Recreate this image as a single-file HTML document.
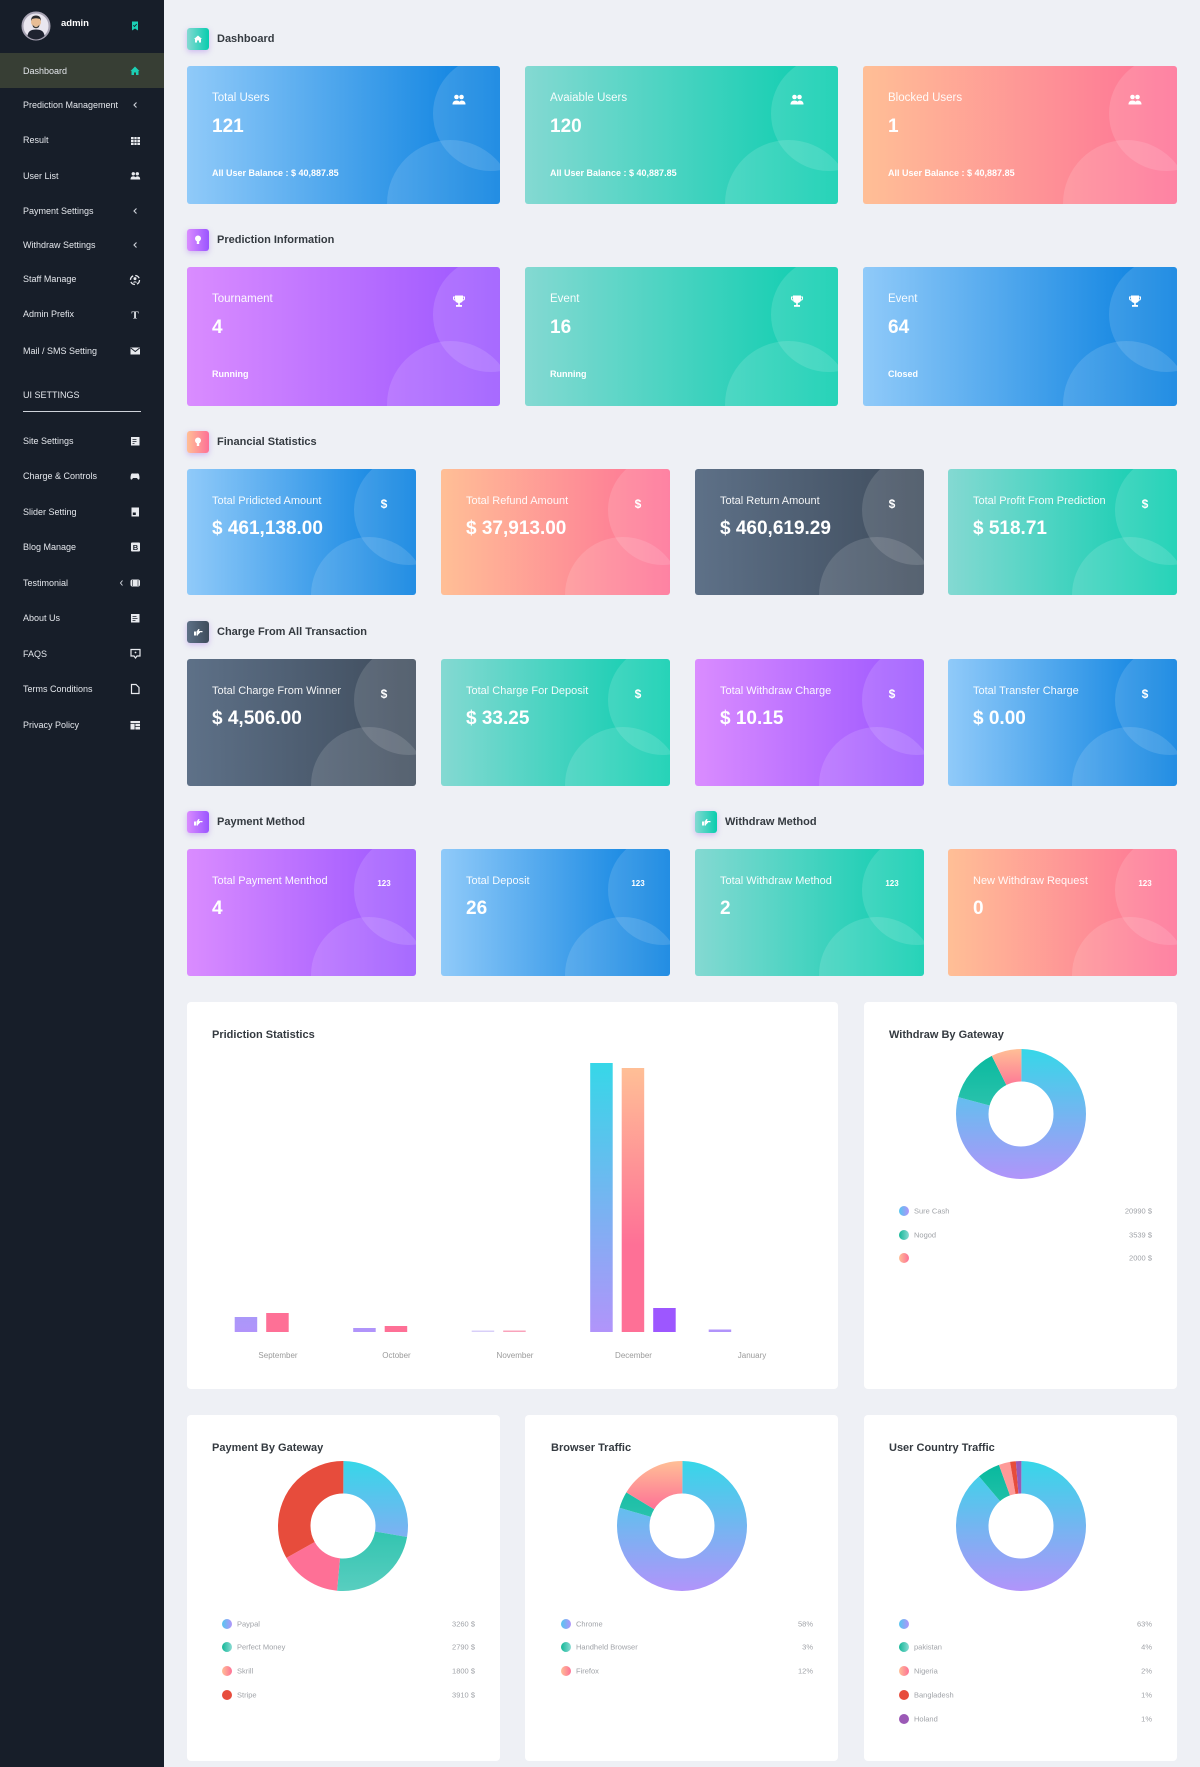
<!DOCTYPE html>
<html><head><meta charset="utf-8">
<style>
*{margin:0;padding:0;box-sizing:border-box}
html,body{width:1200px;height:1767px;overflow:hidden}
body{background:#eef0f5;font-family:"Liberation Sans",Arial,sans-serif;position:relative}
.sb{position:absolute;left:0;top:0;width:164px;height:1767px;background:#171e29}
.act{position:absolute;left:0;top:53px;width:164px;height:35px;background:#373e34}
.si{position:absolute;left:23px;font-size:9px;line-height:12px;color:#e4e7ec;white-space:nowrap}
.card{position:absolute;border-radius:3px;overflow:hidden;color:#fff}
.card .o{position:absolute;border-radius:50%;background:rgba(255,255,255,.13)}
.big{width:313px;height:138px}
.big .o1{left:246px;top:-10px;width:115px;height:115px}
.big .o2{left:200px;top:74px;width:127px;height:127px}
.sm{width:229px;height:127px}
.sm .o1{left:167px;top:-14px;width:110px;height:110px}
.sm .o2{left:124px;top:68px;width:116px;height:116px}
.lb{position:absolute;left:25px;top:25px;font-size:11.5px;line-height:14px;color:rgba(255,255,255,.93);white-space:nowrap}
.sm .lb{font-size:11px}
.vl{position:absolute;left:25px;top:50px;font-size:19px;font-weight:bold;line-height:22px;white-space:nowrap}
.sm .vl{top:49px}
.ft{position:absolute;left:25px;top:101px;font-size:9px;font-weight:bold;line-height:12px;white-space:nowrap}
.ci{position:absolute;left:264px;top:26px;width:16px;height:16px}
.cd{position:absolute;left:187px;top:27px;width:20px;line-height:16px;text-align:center;font-size:12px;font-weight:bold}
.cn{position:absolute;left:187px;top:27px;width:20px;line-height:16px;text-align:center;font-size:8px;font-weight:bold}
.gb{background:linear-gradient(to right,#90caf9,#047edf 99%)}
.gt{background:linear-gradient(to right,#84d9d2,#07cdae)}
.gr{background:linear-gradient(to right,#ffbf96,#fe7096)}
.gp{background:linear-gradient(to right,#da8cff,#9a55ff)}
.gd{background:linear-gradient(89deg,#5e7188,#3e4b5b)}
.hi{position:absolute;width:22px;height:22px;border-radius:3px;box-shadow:0 2px 6px rgba(150,90,230,.35)}
.hi svg{position:absolute;left:0;top:0}
.ht{position:absolute;font-size:11px;font-weight:bold;color:#343a40;line-height:14px;white-space:nowrap}
.panel{position:absolute;background:#fff;border-radius:4px}
svg.ov{position:absolute;left:0;top:0}
</style></head><body>

<div class="sb"></div>
<div class="act"></div>
<div class="si" style="top:18px;left:61px;font-weight:bold;font-size:9.5px;color:#fff">admin</div>
<div class="si" style="top:64.5px">Dashboard</div>
<div class="si" style="top:99px">Prediction Management</div>
<div class="si" style="top:134px">Result</div>
<div class="si" style="top:170px">User List</div>
<div class="si" style="top:205px">Payment Settings</div>
<div class="si" style="top:239px">Withdraw Settings</div>
<div class="si" style="top:273px">Staff Manage</div>
<div class="si" style="top:308px">Admin Prefix</div>
<div class="si" style="top:345px">Mail / SMS Setting</div>
<div class="si" style="top:389px">UI SETTINGS</div>
<div style="position:absolute;left:23px;top:411px;width:118px;height:1px;background:#cfd3da"></div>
<div class="si" style="top:435px">Site Settings</div>
<div class="si" style="top:470px">Charge &amp; Controls</div>
<div class="si" style="top:506px">Slider Setting</div>
<div class="si" style="top:541px">Blog Manage</div>
<div class="si" style="top:577px">Testimonial</div>
<div class="si" style="top:612px">About Us</div>
<div class="si" style="top:648px">FAQS</div>
<div class="si" style="top:683px">Terms Conditions</div>
<div class="si" style="top:719px">Privacy Policy</div>

<!-- Headings -->
<div class="hi gt" style="left:187px;top:28px"><svg width="22" height="22"><path d="M7 11 L11 7.5 L15 11 L14 11 L14 14.5 L12 14.5 L12 12.5 L10 12.5 L10 14.5 L8 14.5 L8 11Z" fill="#fff"/></svg></div>
<div class="ht" style="left:217px;top:32px">Dashboard</div>
<div class="hi gp" style="left:187px;top:229px"><svg width="22" height="22"><circle cx="11" cy="9.5" r="3" fill="#fff"/><rect x="9.8" y="12" width="2.4" height="3" fill="#fff"/></svg></div>
<div class="ht" style="left:217px;top:233px">Prediction Information</div>
<div class="hi gr" style="left:187px;top:431px"><svg width="22" height="22"><circle cx="11" cy="9.5" r="3" fill="#fff"/><rect x="9.8" y="12" width="2.4" height="3" fill="#fff"/></svg></div>
<div class="ht" style="left:217px;top:435px">Financial Statistics</div>
<div class="hi gd" style="left:187px;top:621px"><svg width="22" height="22"><path d="M7 10.5h2v4H7zM9.5 10.5l2-2.5h1l-.5 2h3.5v1.2h-2.5v1h-1v1h-1v1.3h-1.5z" fill="#fff"/></svg></div>
<div class="ht" style="left:217px;top:625px">Charge From All Transaction</div>
<div class="hi gp" style="left:187px;top:811px"><svg width="22" height="22"><path d="M7 10.5h2v4H7zM9.5 10.5l2-2.5h1l-.5 2h3.5v1.2h-2.5v1h-1v1h-1v1.3h-1.5z" fill="#fff"/></svg></div>
<div class="ht" style="left:217px;top:815px">Payment Method</div>
<div class="hi gt" style="left:695px;top:811px"><svg width="22" height="22"><path d="M7 10.5h2v4H7zM9.5 10.5l2-2.5h1l-.5 2h3.5v1.2h-2.5v1h-1v1h-1v1.3h-1.5z" fill="#fff"/></svg></div>
<div class="ht" style="left:725px;top:815px">Withdraw Method</div>

<!-- Row 1 -->
<div class="card big gb" style="left:187px;top:66px"><div class="o o1"></div><div class="o o2"></div>
<div class="lb">Total Users</div><div class="vl">121</div><div class="ft">All User Balance : $ 40,887.85</div>
<svg class="ci" viewBox="0 0 16 16"><circle cx="5.5" cy="5" r="2.3" fill="#fff"/><circle cx="10.5" cy="5" r="2.3" fill="#fff"/><path d="M1.5 12.5Q1.5 8.5 5.5 8.5Q9.5 8.5 9.5 12.5Z M8 12.5Q8.5 8.5 10.5 8.5Q14.5 8.5 14.5 12.5Z" fill="#fff"/></svg></div>
<div class="card big gt" style="left:525px;top:66px"><div class="o o1"></div><div class="o o2"></div>
<div class="lb">Avaiable Users</div><div class="vl">120</div><div class="ft">All User Balance : $ 40,887.85</div>
<svg class="ci" viewBox="0 0 16 16"><circle cx="5.5" cy="5" r="2.3" fill="#fff"/><circle cx="10.5" cy="5" r="2.3" fill="#fff"/><path d="M1.5 12.5Q1.5 8.5 5.5 8.5Q9.5 8.5 9.5 12.5Z M8 12.5Q8.5 8.5 10.5 8.5Q14.5 8.5 14.5 12.5Z" fill="#fff"/></svg></div>
<div class="card big gr" style="left:863px;top:66px;width:314px"><div class="o o1"></div><div class="o o2"></div>
<div class="lb">Blocked Users</div><div class="vl">1</div><div class="ft">All User Balance : $ 40,887.85</div>
<svg class="ci" viewBox="0 0 16 16"><circle cx="5.5" cy="5" r="2.3" fill="#fff"/><circle cx="10.5" cy="5" r="2.3" fill="#fff"/><path d="M1.5 12.5Q1.5 8.5 5.5 8.5Q9.5 8.5 9.5 12.5Z M8 12.5Q8.5 8.5 10.5 8.5Q14.5 8.5 14.5 12.5Z" fill="#fff"/></svg></div>

<!-- Row 2 -->
<div class="card big gp" style="left:187px;top:267px;height:139px"><div class="o o1"></div><div class="o o2"></div>
<div class="lb">Tournament</div><div class="vl">4</div><div class="ft">Running</div>
<svg class="ci" viewBox="0 0 16 16"><path d="M4 2.5H12V6.5Q12 10 8 10Q4 10 4 6.5Z M4 3.5H2V5.5Q2 7.5 4.3 7.8V6.8Q3 6.5 3 5.3V4.5H4Z M12 3.5H14V5.5Q14 7.5 11.7 7.8V6.8Q13 6.5 13 5.3V4.5H12Z" fill="#fff"/><rect x="7.2" y="9.5" width="1.6" height="2.5" fill="#fff"/><rect x="5" y="12" width="6" height="1.8" fill="#fff"/></svg></div>
<div class="card big gt" style="left:525px;top:267px;height:139px"><div class="o o1"></div><div class="o o2"></div>
<div class="lb">Event</div><div class="vl">16</div><div class="ft">Running</div>
<svg class="ci" viewBox="0 0 16 16"><path d="M4 2.5H12V6.5Q12 10 8 10Q4 10 4 6.5Z M4 3.5H2V5.5Q2 7.5 4.3 7.8V6.8Q3 6.5 3 5.3V4.5H4Z M12 3.5H14V5.5Q14 7.5 11.7 7.8V6.8Q13 6.5 13 5.3V4.5H12Z" fill="#fff"/><rect x="7.2" y="9.5" width="1.6" height="2.5" fill="#fff"/><rect x="5" y="12" width="6" height="1.8" fill="#fff"/></svg></div>
<div class="card big gb" style="left:863px;top:267px;height:139px;width:314px"><div class="o o1"></div><div class="o o2"></div>
<div class="lb">Event</div><div class="vl">64</div><div class="ft">Closed</div>
<svg class="ci" viewBox="0 0 16 16"><path d="M4 2.5H12V6.5Q12 10 8 10Q4 10 4 6.5Z M4 3.5H2V5.5Q2 7.5 4.3 7.8V6.8Q3 6.5 3 5.3V4.5H4Z M12 3.5H14V5.5Q14 7.5 11.7 7.8V6.8Q13 6.5 13 5.3V4.5H12Z" fill="#fff"/><rect x="7.2" y="9.5" width="1.6" height="2.5" fill="#fff"/><rect x="5" y="12" width="6" height="1.8" fill="#fff"/></svg></div>

<!-- Row 3 -->
<div class="card sm gb" style="left:187px;top:469px;height:126px"><div class="o o1"></div><div class="o o2"></div>
<div class="lb">Total Pridicted Amount</div><div class="vl">$ 461,138.00</div><div class="cd">$</div></div>
<div class="card sm gr" style="left:441px;top:469px;height:126px"><div class="o o1"></div><div class="o o2"></div>
<div class="lb">Total Refund Amount</div><div class="vl">$ 37,913.00</div><div class="cd">$</div></div>
<div class="card sm gd" style="left:695px;top:469px;height:126px"><div class="o o1"></div><div class="o o2"></div>
<div class="lb">Total Return Amount</div><div class="vl">$ 460,619.29</div><div class="cd">$</div></div>
<div class="card sm gt" style="left:948px;top:469px;height:126px"><div class="o o1"></div><div class="o o2"></div>
<div class="lb">Total Profit From Prediction</div><div class="vl">$ 518.71</div><div class="cd">$</div></div>

<!-- Row 4 -->
<div class="card sm gd" style="left:187px;top:659px"><div class="o o1"></div><div class="o o2"></div>
<div class="lb">Total Charge From Winner</div><div class="vl">$ 4,506.00</div><div class="cd">$</div></div>
<div class="card sm gt" style="left:441px;top:659px"><div class="o o1"></div><div class="o o2"></div>
<div class="lb">Total Charge For Deposit</div><div class="vl">$ 33.25</div><div class="cd">$</div></div>
<div class="card sm gp" style="left:695px;top:659px"><div class="o o1"></div><div class="o o2"></div>
<div class="lb">Total Withdraw Charge</div><div class="vl">$ 10.15</div><div class="cd">$</div></div>
<div class="card sm gb" style="left:948px;top:659px"><div class="o o1"></div><div class="o o2"></div>
<div class="lb">Total Transfer Charge</div><div class="vl">$ 0.00</div><div class="cd">$</div></div>

<!-- Row 5 -->
<div class="card sm gp" style="left:187px;top:849px"><div class="o o1"></div><div class="o o2"></div>
<div class="lb">Total Payment Menthod</div><div class="vl">4</div><div class="cn">123</div></div>
<div class="card sm gb" style="left:441px;top:849px"><div class="o o1"></div><div class="o o2"></div>
<div class="lb">Total Deposit</div><div class="vl">26</div><div class="cn">123</div></div>
<div class="card sm gt" style="left:695px;top:849px"><div class="o o1"></div><div class="o o2"></div>
<div class="lb">Total Withdraw Method</div><div class="vl">2</div><div class="cn">123</div></div>
<div class="card sm gr" style="left:948px;top:849px"><div class="o o1"></div><div class="o o2"></div>
<div class="lb">New Withdraw Request</div><div class="vl">0</div><div class="cn">123</div></div>

<!-- Panels -->
<div class="panel" style="left:187px;top:1002px;width:651px;height:387px"></div>
<div class="panel" style="left:864px;top:1002px;width:313px;height:387px"></div>
<div class="panel" style="left:187px;top:1415px;width:313px;height:346px"></div>
<div class="panel" style="left:525px;top:1415px;width:313px;height:346px"></div>
<div class="panel" style="left:864px;top:1415px;width:313px;height:346px"></div>

<svg class="ov" width="1200" height="1767" viewBox="0 0 1200 1767" font-family="Liberation Sans, Arial, sans-serif">
<defs>
<linearGradient id="barB" gradientUnits="userSpaceOnUse" x1="0" y1="1063" x2="0" y2="1332"><stop offset="0" stop-color="#36d7e8"/><stop offset="1" stop-color="#b194fa"/></linearGradient>
<linearGradient id="barR" gradientUnits="userSpaceOnUse" x1="0" y1="1068" x2="0" y2="1245"><stop offset="0" stop-color="#ffbf96"/><stop offset="1" stop-color="#fe7096"/></linearGradient>
<linearGradient id="wB" gradientUnits="userSpaceOnUse" x1="0" y1="1049" x2="0" y2="1179"><stop offset="0" stop-color="#36d7e8"/><stop offset="1" stop-color="#b194fa"/></linearGradient>
<linearGradient id="wR" gradientUnits="userSpaceOnUse" x1="0" y1="1049" x2="0" y2="1090"><stop offset="0" stop-color="#ffbf96"/><stop offset="1" stop-color="#fe7096"/></linearGradient>
<linearGradient id="wG" gradientUnits="userSpaceOnUse" x1="0" y1="1049" x2="0" y2="1250"><stop offset="0" stop-color="#06b99d"/><stop offset="1" stop-color="#84d9d2"/></linearGradient>
<linearGradient id="bB" gradientUnits="userSpaceOnUse" x1="0" y1="1461" x2="0" y2="1591"><stop offset="0" stop-color="#36d7e8"/><stop offset="1" stop-color="#b194fa"/></linearGradient>
<linearGradient id="bR" gradientUnits="userSpaceOnUse" x1="0" y1="1461" x2="0" y2="1510"><stop offset="0" stop-color="#ffbf96"/><stop offset="1" stop-color="#fe7096"/></linearGradient>
<linearGradient id="bG" gradientUnits="userSpaceOnUse" x1="0" y1="1461" x2="0" y2="1660"><stop offset="0" stop-color="#06b99d"/><stop offset="1" stop-color="#84d9d2"/></linearGradient>
<linearGradient id="dB" x1="0" y1="0" x2="1" y2="0"><stop offset="0" stop-color="#55c6ef"/><stop offset="1" stop-color="#b194fa"/></linearGradient>
<linearGradient id="dG" x1="0" y1="0" x2="1" y2="0"><stop offset="0" stop-color="#13b797"/><stop offset="1" stop-color="#8adbd3"/></linearGradient>
<linearGradient id="dR" x1="0" y1="0" x2="1" y2="0"><stop offset="0" stop-color="#ffbf96"/><stop offset="1" stop-color="#fe7096"/></linearGradient>
</defs>

<!-- sidebar top -->
<circle cx="36" cy="26" r="13.5" fill="#e9e6ef" stroke="#a7a3b3" stroke-width="2"/>
<path d="M27.5 36 Q28 29.5 36 29.5 Q44 29.5 44.5 36 Q40.5 39.5 36 39.5 Q31.5 39.5 27.5 36Z" fill="#1f2330"/>
<circle cx="36" cy="22" r="5" fill="#e8bd95"/>
<path d="M31 21 Q31 15.5 36 15.5 Q41 15.5 41 21 L40 19 Q36 17.5 32 19Z" fill="#2b2b2b"/>
<path d="M32.5 24.5 Q36 29.5 39.5 24.5 L39 27 Q36 29.5 33 27Z" fill="#3a3a3a"/>
<path d="M132 21.5h6v9l-3-2-3 2z" fill="#1bcfb4"/>
<path d="M133.3 25.3l1.2 1.2 2.2-2.4" stroke="#171e29" stroke-width=".9" fill="none"/>

<!-- sidebar icons -->
<path d="M130.5 71 L135 66.5 L139.5 71 L138.5 71 L138.5 75 L136 75 L136 72.5 L134 72.5 L134 75 L131.5 75 L131.5 71Z" fill="#1bcfb4"/>
<path d="M136.5 102.5 L134 105 L136.5 107.5" stroke="#cfd3da" stroke-width="1.1" fill="none"/>
<rect x="131" y="137" width="9" height="8" fill="#e8eaee"/>
<path d="M131 139.7h9M131 142.3h9M134 137v8M137 137v8" stroke="#171e29" stroke-width=".7"/>
<circle cx="133.3" cy="173.8" r="1.7" fill="#e8eaee"/><circle cx="137.3" cy="173.8" r="1.7" fill="#e8eaee"/>
<path d="M130.5 179.5Q130.5 176.3 133.3 176.3Q136.1 176.3 136.1 179.5Z M135 179.5Q135.3 176.3 137.3 176.3Q140.2 176.3 140.2 179.5Z" fill="#e8eaee"/>
<path d="M136.5 208.5 L134 211 L136.5 213.5" stroke="#cfd3da" stroke-width="1.1" fill="none"/>
<path d="M136.5 242.5 L134 245 L136.5 247.5" stroke="#cfd3da" stroke-width="1.1" fill="none"/>
<circle cx="135" cy="280" r="4.5" fill="none" stroke="#e8eaee" stroke-width="1.3" stroke-dasharray="5 2.1"/>
<circle cx="135" cy="278.6" r="1.5" fill="#e8eaee"/><path d="M132.6 282.5Q135 280 137.4 282.5Z" fill="#e8eaee"/>
<text x="135" y="318.5" font-family="Liberation Serif, serif" font-weight="bold" font-size="11" fill="#e8eaee" text-anchor="middle">T</text>
<rect x="130.5" y="347.5" width="9.5" height="7" fill="#e8eaee"/>
<path d="M130.8 348 L135.25 351.5 L139.7 348" stroke="#171e29" stroke-width=".9" fill="none"/>
<rect x="131" y="437" width="8.5" height="8.5" fill="#e8eaee"/><path d="M132.5 439.5h4M132.5 441.5h4M132.5 443.5h2" stroke="#171e29" stroke-width=".7"/>
<path d="M131 479.5Q130 478.5 131 474.5Q131.5 473 133 473.5L137 473.5Q138.5 473 139 474.5Q140 478.5 139 479.5Q138 480 137 478L133 478Q132 480 131 479.5Z" fill="#e8eaee"/>
<rect x="131.5" y="507.5" width="7.5" height="9" fill="#e8eaee"/><rect x="132.8" y="512.5" width="3" height="2.5" fill="#171e29"/>
<rect x="131" y="542.5" width="9" height="9" rx="1" fill="#e8eaee"/><text x="135.5" y="550" font-size="7.5" font-weight="bold" fill="#171e29" text-anchor="middle">B</text>
<path d="M122.5 580.5 L120.5 583 L122.5 585.5" stroke="#cfd3da" stroke-width="1" fill="none"/>
<rect x="130.5" y="579.5" width="9.5" height="7" rx="2" fill="#e8eaee"/><path d="M132.5 580v6M138 580v6" stroke="#171e29" stroke-width=".6"/>
<rect x="131" y="614" width="8.5" height="8.5" fill="#e8eaee"/><path d="M132.5 616.5h4M132.5 618.5h5M132.5 620.5h3" stroke="#171e29" stroke-width=".7"/>
<path d="M131 649.5h9v6.5h-3l-1.5 2-1.5-2h-3z" fill="none" stroke="#e8eaee" stroke-width="1.2"/><circle cx="135.5" cy="652.5" r=".9" fill="#e8eaee"/>
<path d="M131.5 684.5h4.5l3 3v6h-7.5z" fill="none" stroke="#e8eaee" stroke-width="1.2"/>
<rect x="130.5" y="721" width="9.5" height="8.5" fill="#e8eaee"/><path d="M130.5 723.5h9.5M135 723.5v6M135 726.5h5" stroke="#171e29" stroke-width=".8"/>

<!-- bar chart -->
<text x="212" y="1038" font-size="11" font-weight="bold" fill="#343a40">Pridiction Statistics</text>
<rect x="234.7" y="1317" width="22.5" height="15" fill="url(#barB)"/>
<rect x="266.2" y="1313" width="22.5" height="19" fill="url(#barR)"/>
<rect x="353.2" y="1328" width="22.5" height="4" fill="url(#barB)"/>
<rect x="384.7" y="1326" width="22.5" height="6" fill="url(#barR)"/>
<rect x="471.7" y="1330.5" width="22.5" height="1.5" fill="#d8cff8"/>
<rect x="503.2" y="1330.5" width="22.5" height="1.5" fill="#f9a3bb"/>
<rect x="590.2" y="1063" width="22.5" height="269" fill="url(#barB)"/>
<rect x="621.7" y="1068" width="22.5" height="264" fill="url(#barR)"/>
<rect x="653.2" y="1308" width="22.5" height="24" fill="#9d57ff"/>
<rect x="708.7" y="1329.5" width="22.5" height="2.5" fill="#b194fa"/>
<g font-size="8" fill="#9a9a9a" text-anchor="middle">
<text x="278" y="1358">September</text>
<text x="396.5" y="1358">October</text>
<text x="515" y="1358">November</text>
<text x="633.5" y="1358">December</text>
<text x="752" y="1358">January</text>
</g>

<!-- Withdraw By Gateway -->
<text x="889" y="1038" font-size="11" font-weight="bold" fill="#343a40">Withdraw By Gateway</text>
<g fill="none" stroke-width="32.5">
<circle cx="1021" cy="1114" r="48.75" stroke="url(#wB)" stroke-dasharray="242.35 63.955" stroke-dashoffset="76.58"/>
<circle cx="1021" cy="1114" r="48.75" stroke="url(#wG)" stroke-dasharray="40.86 265.445" stroke-dashoffset="-165.77"/>
<circle cx="1021" cy="1114" r="48.75" stroke="url(#wR)" stroke-dasharray="23.09 283.215" stroke-dashoffset="-206.64"/>
</g>
<g font-size="7.5" fill="#a0a3a8">
<circle cx="904" cy="1211" r="5" fill="url(#dB)"/><text x="914" y="1213.7">Sure Cash</text><text x="1152" y="1213.7" text-anchor="end">20990 $</text>
<circle cx="904" cy="1235" r="5" fill="url(#dG)"/><text x="914" y="1237.7">Nogod</text><text x="1152" y="1237.7" text-anchor="end">3539 $</text>
<circle cx="904" cy="1258" r="5" fill="url(#dR)"/><text x="1152" y="1260.7" text-anchor="end">2000 $</text>
</g>

<!-- Payment By Gateway -->
<text x="212" y="1451" font-size="11" font-weight="bold" fill="#343a40">Payment By Gateway</text>
<g fill="none" stroke-width="32.5">
<circle cx="343" cy="1526" r="48.75" stroke="url(#bB)" stroke-dasharray="84.91 221.395" stroke-dashoffset="76.58"/>
<circle cx="343" cy="1526" r="48.75" stroke="url(#bG)" stroke-dasharray="72.67 233.635" stroke-dashoffset="-8.33"/>
<circle cx="343" cy="1526" r="48.75" stroke="url(#bR)" stroke-dasharray="46.88 259.425" stroke-dashoffset="-81.00"/>
<circle cx="343" cy="1526" r="48.75" stroke="#e74c3c" stroke-dasharray="101.84 204.465" stroke-dashoffset="-127.88"/>
</g>
<g font-size="7.5" fill="#a0a3a8">
<circle cx="227" cy="1624" r="5" fill="url(#dB)"/><text x="237" y="1626.7">Paypal</text><text x="475" y="1626.7" text-anchor="end">3260 $</text>
<circle cx="227" cy="1647" r="5" fill="url(#dG)"/><text x="237" y="1649.7">Perfect Money</text><text x="475" y="1649.7" text-anchor="end">2790 $</text>
<circle cx="227" cy="1671" r="5" fill="url(#dR)"/><text x="237" y="1673.7">Skrill</text><text x="475" y="1673.7" text-anchor="end">1800 $</text>
<circle cx="227" cy="1695" r="5" fill="#e74c3c"/><text x="237" y="1697.7">Stripe</text><text x="475" y="1697.7" text-anchor="end">3910 $</text>
</g>

<!-- Browser Traffic -->
<text x="551" y="1451" font-size="11" font-weight="bold" fill="#343a40">Browser Traffic</text>
<g fill="none" stroke-width="32.5">
<circle cx="682" cy="1526" r="48.75" stroke="url(#bB)" stroke-dasharray="243.37 62.935" stroke-dashoffset="76.58"/>
<circle cx="682" cy="1526" r="48.75" stroke="url(#bG)" stroke-dasharray="12.59 293.715" stroke-dashoffset="-166.79"/>
<circle cx="682" cy="1526" r="48.75" stroke="url(#bR)" stroke-dasharray="50.35 255.955" stroke-dashoffset="-179.38"/>
</g>
<g font-size="7.5" fill="#a0a3a8">
<circle cx="566" cy="1624" r="5" fill="url(#dB)"/><text x="576" y="1626.7">Chrome</text><text x="813" y="1626.7" text-anchor="end">58%</text>
<circle cx="566" cy="1647" r="5" fill="url(#dG)"/><text x="576" y="1649.7">Handheld Browser</text><text x="813" y="1649.7" text-anchor="end">3%</text>
<circle cx="566" cy="1671" r="5" fill="url(#dR)"/><text x="576" y="1673.7">Firefox</text><text x="813" y="1673.7" text-anchor="end">12%</text>
</g>

<!-- User Country Traffic -->
<text x="889" y="1451" font-size="11" font-weight="bold" fill="#343a40">User Country Traffic</text>
<g fill="none" stroke-width="32.5">
<circle cx="1021" cy="1526" r="48.75" stroke="url(#bB)" stroke-dasharray="271.79 34.515" stroke-dashoffset="76.58"/>
<circle cx="1021" cy="1526" r="48.75" stroke="url(#bG)" stroke-dasharray="17.26 289.045" stroke-dashoffset="-195.21"/>
<circle cx="1021" cy="1526" r="48.75" stroke="#fe9a98" stroke-dasharray="8.63 297.675" stroke-dashoffset="-212.47"/>
<circle cx="1021" cy="1526" r="48.75" stroke="#e74c3c" stroke-dasharray="4.31 301.995" stroke-dashoffset="-221.10"/>
<circle cx="1021" cy="1526" r="48.75" stroke="#9b59b6" stroke-dasharray="4.31 301.995" stroke-dashoffset="-225.41"/>
</g>
<g font-size="7.5" fill="#a0a3a8">
<circle cx="904" cy="1624" r="5" fill="url(#dB)"/><text x="1152" y="1626.7" text-anchor="end">63%</text>
<circle cx="904" cy="1647" r="5" fill="url(#dG)"/><text x="914" y="1649.7">pakistan</text><text x="1152" y="1649.7" text-anchor="end">4%</text>
<circle cx="904" cy="1671" r="5" fill="url(#dR)"/><text x="914" y="1673.7">Nigeria</text><text x="1152" y="1673.7" text-anchor="end">2%</text>
<circle cx="904" cy="1695" r="5" fill="#e74c3c"/><text x="914" y="1697.7">Bangladesh</text><text x="1152" y="1697.7" text-anchor="end">1%</text>
<circle cx="904" cy="1719" r="5" fill="#9b59b6"/><text x="914" y="1721.7">Holand</text><text x="1152" y="1721.7" text-anchor="end">1%</text>
</g>
</svg>
</body></html>
